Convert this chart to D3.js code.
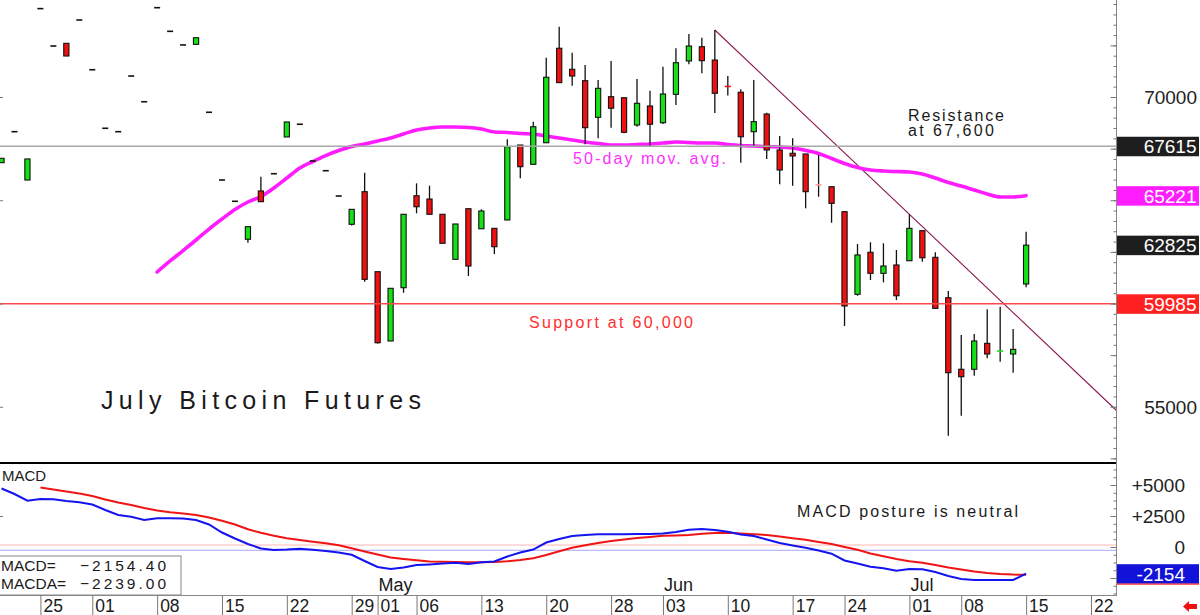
<!DOCTYPE html>
<html>
<head>
<meta charset="UTF-8">
<title>July Bitcoin Futures</title>
<script src="https://d3js.org/d3.v7.min.js"></script>
<style>
  html, body { margin: 0; padding: 0; background: #fff; }
  svg { display: block; }
  svg text { font-family: "Liberation Sans", Arial, sans-serif; fill: #1a1a1a; }
  .axis path.domain { display: none; }
  .axis line { stroke: #777; }
  .box-label { fill: #fff; font-size: 19px; text-anchor: end; }
</style>
</head>
<body>
<svg id="chart" width="1200" height="615"></svg>
<script>
// ---- data ----------------------------------------------------------
const holidays = ["2024-03-29", "2024-05-27", "2024-06-19", "2024-07-04"];

// daily OHLC, first bar 2024-03-20, last bar 2024-07-15
const opens = [66820, 68320, 65980, 74280, 72470, 72600, 73730, 71320, 68485, 68320,
  71015, 69770, 74325, 73180, 72520, 72550, 69260, 65980, 64950, 63110,
  65450, 66285, 68065, 68680, 66900, 66430, 65205, 63835, 65415, 61540,
  58185, 60765, 65220, 65060, 64320, 62140, 64590, 63620, 63640, 64045,
  67675, 66740, 67785, 72360, 71340, 70790, 69015, 70015, 69965, 68645,
  69565, 68755, 70130, 71745, 72435, 71790, 70510, 70230, 68320, 69175,
  67435, 67275, 67240, 65740, 65655, 64445, 60445, 62480, 61460, 61865,
  62070, 63525, 62235, 60280, 56815, 56815, 58070, 57700, 57555, 60945];
const highs = [67030, 68320, 67000, 74280, 72470, 72600, 73730, 71320, 68485, 68320,
  71015, 69770, 74325, 73180, 72520, 72870, 69260, 65980, 64950, 63720,
  66140, 66285, 68790, 68680, 66900, 66430, 65205, 64560, 66335, 61540,
  60735, 64320, 65820, 65705, 64320, 63850, 64590, 64560, 63640, 67950,
  67675, 68805, 71905, 73405, 72145, 71550, 70825, 71745, 69965, 70870,
  70305, 71465, 72360, 73050, 72870, 73245, 71015, 70375, 70825, 69240,
  68110, 68000, 67240, 67190, 65655, 64480, 62880, 62965, 62915, 62590,
  64320, 63560, 62480, 60605, 58475, 58520, 59720, 59845, 58765, 63475];
const lows = [66820, 68320, 65980, 74280, 72470, 71985, 73730, 71320, 68485, 68320,
  71015, 69770, 74325, 73180, 72520, 72550, 69260, 65980, 64950, 62945,
  64930, 66285, 68065, 68680, 66900, 66430, 65205, 63780, 61055, 58060,
  58185, 60520, 64370, 64320, 62915, 62140, 61330, 63620, 62395, 64045,
  66065, 66740, 67785, 70695, 70545, 67710, 68000, 68515, 68240, 68560,
  67595, 68690, 69615, 71585, 71150, 69225, 70075, 66820, 67640, 67000,
  65770, 65705, 64610, 65170, 63910, 58910, 60375, 61135, 61025, 60170,
  62070, 62025, 59765, 53595, 54565, 56505, 57345, 57180, 56650, 60785];
const closes = [67030, 68320, 67000, 74280, 72470, 71985, 73730, 71320, 68485, 68320,
  71015, 69770, 74325, 73180, 72520, 72870, 69260, 65980, 64950, 63720,
  64930, 66285, 68790, 68680, 66900, 66430, 65205, 64560, 61170, 58100,
  60735, 64320, 64685, 64320, 62915, 63850, 61815, 64480, 62750, 67595,
  66625, 68560, 70955, 70695, 71015, 68515, 70420, 69455, 68290, 69695,
  68680, 70145, 71660, 72470, 71760, 70180, 70510, 68075, 68805, 67435,
  66465, 67145, 65415, 65740, 64850, 59880, 62350, 61460, 61815, 60375,
  63640, 62215, 59765, 56650, 56455, 58185, 57555, 57700, 57780, 62825];

// colour of the flat (open = close) bars that are not plain black
const flatTone = { "2024-06-10": "down", "2024-06-20": "faint", "2024-07-11": "up" };

// 50-day moving average, from 2024-04-08
const maStart = "2024-04-08";
const movAvg50 = [61525, 62060, 62565, 63075, 63605, 64090, 64550, 64915, 65180, 65595,
  66075, 66560, 66875, 67165, 67410, 67605, 67725, 67870, 68015, 68210,
  68400, 68500, 68545, 68545, 68525, 68450, 68305, 68280, 68230, 68210,
  68110, 68015, 67920, 67820, 67750, 67675, 67675, 67700, 67725, 67770,
  67820, 67795, 67770, 67770, 67700, 67650, 67625, 67595, 67580, 67530,
  67410, 67265, 67020, 66780, 66585, 66465, 66415, 66390, 66370, 66270,
  66075, 65860, 65690, 65495, 65300, 65155, 65160, 65221];

// MACD (blue) from 2024-03-20, MACDA signal (red) from 2024-03-25
const macdLine = [4718, 4274, 3734, 3871, 3847, 3710, 3605, 3428, 2984, 2581,
  2436, 2178, 2315, 2315, 2299, 2178, 1815, 1169, 686, 242,
  -121, -242, -202, -137, -218, -323, -444, -629, -1129, -1613,
  -1774, -1653, -1452, -1403, -1331, -1274, -1371, -1234, -1169, -766,
  -444, -202, 363, 645, 887, 968, 1032, 1032, 1024, 1048,
  1048, 1089, 1210, 1387, 1452, 1371, 1226, 1008, 887, 605,
  323, 121, -65, -282, -540, -1089, -1331, -1589, -1718, -1911,
  -1774, -1798, -2016, -2339, -2581, -2661, -2661, -2661, -2661, -2154.4];
const signalStart = "2024-03-25";
const macdSignal = [4799, 4637, 4476, 4315, 4113, 3831, 3589, 3387, 3145, 2944,
  2807, 2702, 2581, 2379, 2113, 1815, 1427, 1145, 911, 710,
  565, 427, 298, 137, -105, -363, -605, -847, -968, -1073,
  -1169, -1185, -1202, -1234, -1234, -1210, -1153, -1048, -911, -645,
  -347, -56, 137, 323, 484, 605, 726, 807, 903, 927,
  968, 1065, 1129, 1153, 1097, 1032, 968, 847, 702, 581,
  403, 242, 0, -226, -524, -750, -968, -1153, -1274, -1452,
  -1653, -1815, -1976, -2097, -2180, -2225, -2239];

const resistanceLevel = 67615;
const supportLevel = 59985;
const trendAnchors = ["2024-06-07", "2024-07-01"];

const weekTicks = ["2024-03-25", "2024-04-01", "2024-04-08", "2024-04-15", "2024-04-22",
  "2024-04-29", "2024-05-01", "2024-05-06", "2024-05-13", "2024-05-20", "2024-05-28",
  "2024-06-03", "2024-06-10", "2024-06-17", "2024-06-24", "2024-07-01", "2024-07-08",
  "2024-07-15", "2024-07-22"];
const monthTicks = ["2024-05-01", "2024-06-03", "2024-07-01"];
const priceLabels = [55000, 70000];
const macdLabels = [0, 2500, 5000];

// ---- scales ----------------------------------------------------------
const key = d3.utcFormat("%Y-%m-%d");
const days = d3.utcDay.range(new Date(Date.UTC(2024, 2, 20)), new Date(Date.UTC(2024, 6, 25)))
  .filter(d => d.getUTCDay() > 0 && d.getUTCDay() < 6 && !holidays.includes(key(d)))
  .map(key);

const axisX = 1116.5;
const x = d3.scalePoint().domain(days).range([1.5, 1116.9]);
const y = d3.scaleLinear().domain([55000, 70000]).range([406.75, 97]);
const m = d3.scaleLinear().domain([0, 5000]).range([547, 485]);

const svg = d3.select('#chart');

const candles = closes.map((c, i) => ({ day: days[i], o: opens[i], h: highs[i], l: lows[i], c }));
const maData = movAvg50.map((v, i) => ({ day: days[days.indexOf(maStart) + i], v }));
const macdData = macdLine.map((v, i) => ({ day: days[i], v }));
const sigData = macdSignal.map((v, i) => ({ day: days[days.indexOf(signalStart) + i], v }));

// ---- price panel -------------------------------------------------------
const plot = svg.append('g');

// trend line through the two highs, run out to the price axis
const a0 = candles.find(d => d.day === trendAnchors[0]);
const a1 = candles.find(d => d.day === trendAnchors[1]);
const slope = (y(a1.h) - y(a0.h)) / (x(a1.day) - x(a0.day));
plot.append('line')
  .attr('x1', x(a0.day)).attr('y1', y(a0.h))
  .attr('x2', axisX).attr('y2', y(a0.h) + slope * (axisX - x(a0.day)))
  .attr('stroke', '#8a1850').attr('stroke-width', 1.1);

plot.append('path')
  .datum(maData)
  .attr('fill', 'none')
  .attr('stroke', '#ff1cff')
  .attr('stroke-width', 3.6)
  .attr('stroke-linecap', 'round')
  .attr('d', d3.line().x(d => x(d.day)).y(d => y(d.v)).curve(d3.curveMonotoneX));

const bar = plot.selectAll('.candle').data(candles).enter().append('g').attr('class', 'candle');

bar.filter(d => d.h > Math.max(d.o, d.c) || d.l < Math.min(d.o, d.c))
  .append('line')
  .attr('x1', d => x(d.day)).attr('x2', d => x(d.day))
  .attr('y1', d => y(d.h)).attr('y2', d => y(d.l))
  .attr('stroke', '#111').attr('stroke-width', 1.3);

bar.filter(d => d.o !== d.c)
  .append('rect')
  .attr('x', d => x(d.day) - 2.6)
  .attr('width', 5.2)
  .attr('y', d => y(Math.max(d.o, d.c)))
  .attr('height', d => Math.max(1, y(Math.min(d.o, d.c)) - y(Math.max(d.o, d.c))))
  .attr('fill', d => d.c > d.o ? '#16e016' : '#f01010')
  .attr('stroke', '#111')
  .attr('stroke-width', 1.1);

const toneColour = { up: '#16e016', down: '#f01010', faint: '#ff9a9a' };
bar.filter(d => d.o === d.c)
  .append('line')
  .attr('x1', d => x(d.day) - 3).attr('x2', d => x(d.day) + 3)
  .attr('y1', d => y(d.o)).attr('y2', d => y(d.o))
  .attr('stroke', d => toneColour[flatTone[d.day]] || '#111')
  .attr('stroke-width', 1.6);

// horizontal levels sit over the bars
plot.append('line')
  .attr('x1', 0).attr('x2', axisX).attr('y1', y(resistanceLevel)).attr('y2', y(resistanceLevel))
  .attr('stroke', '#a8a8a8').attr('stroke-width', 1.6);
plot.append('line')
  .attr('x1', 0).attr('x2', axisX).attr('y1', y(supportLevel)).attr('y2', y(supportLevel))
  .attr('stroke', '#ff4a4a').attr('stroke-width', 1.4);

// annotations
function note(txt, px, py, size, len, colour) {
  svg.append('text')
    .attr('x', px).attr('y', py)
    .attr('font-size', size)
    .attr('textLength', len)
    .attr('lengthAdjust', 'spacing')
    .style('fill', colour || '#1a1a1a')
    .text(txt);
}
note('July Bitcoin Futures', 101, 408.5, 25, 320);
note('Resistance', 908, 120.7, 16, 96);
note('at 67,600', 908, 136, 16, 86);
note('50-day mov. avg.', 573, 164, 16, 153, '#ff30ff');
note('Support at 60,000', 529, 327.5, 16, 164, '#ff2e2e');
note('MACD posture is neutral', 797, 516.5, 16, 221);

// ---- MACD panel ----------------------------------------------------------
svg.append('line').attr('x1', 0).attr('x2', axisX).attr('y1', 463).attr('y2', 463)
  .attr('stroke', '#000').attr('stroke-width', 2);
svg.append('line').attr('x1', 0).attr('x2', axisX).attr('y1', m(160)).attr('y2', m(160))
  .attr('stroke', '#ffb4b4').attr('stroke-width', 1);
svg.append('line').attr('x1', 0).attr('x2', axisX).attr('y1', m(-265)).attr('y2', m(-265))
  .attr('stroke', '#a8a8ff').attr('stroke-width', 1);

const macdPath = d3.line().x(d => x(d.day)).y(d => m(d.v));
svg.append('path').datum(sigData)
  .attr('fill', 'none').attr('stroke', '#f01414').attr('stroke-width', 2)
  .attr('d', macdPath);
svg.append('path').datum(macdData)
  .attr('fill', 'none').attr('stroke', '#1414f0').attr('stroke-width', 2)
  .attr('d', macdPath);

svg.append('text').attr('x', 2).attr('y', 481).attr('font-size', 15).text('MACD');

const fmt2 = d3.format('.2f');
svg.append('rect').attr('x', -1).attr('y', 556).attr('width', 182).attr('height', 39)
  .attr('fill', '#fff').attr('stroke', '#888');
svg.append('text').attr('x', 1).attr('y', 571).attr('font-size', 15.5).text('MACD=');
svg.append('text').attr('x', 1).attr('y', 589).attr('font-size', 15.5).text('MACDA=');
note(fmt2(macdLine[macdLine.length - 1]), 80, 571, 15.5, 86);
note(fmt2(macdSignal[macdSignal.length - 1]), 80, 589, 15.5, 86);

// ---- axes ----------------------------------------------------------------
svg.append('line').attr('x1', 0).attr('x2', axisX).attr('y1', 595.5).attr('y2', 595.5)
  .attr('stroke', '#888');
svg.append('line').attr('x1', axisX).attr('x2', axisX).attr('y1', 0).attr('y2', 596)
  .attr('stroke', '#888');

const priceG = svg.append('g').attr('class', 'axis').attr('transform', `translate(${axisX},0)`);
priceG.append('g').call(d3.axisRight(y).tickValues(d3.range(52500, 75000, 500))
  .tickSizeInner(-3).tickSizeOuter(0).tickFormat(''));
priceG.append('g').call(d3.axisRight(y).tickValues(d3.range(52500, 75000, 2500))
  .tickSizeInner(-6).tickSizeOuter(0)
  .tickFormat(v => priceLabels.includes(v) ? v : ''));
priceG.selectAll('text')
  .attr('x', 80.5).attr('dy', '0.35em')
  .attr('text-anchor', 'end').attr('font-size', 19).style('fill', '#222');

const macdG = svg.append('g').attr('class', 'axis').attr('transform', `translate(${axisX},0)`);
macdG.append('g').call(d3.axisRight(m).tickValues(d3.range(-3750, 6500, 625))
  .tickSizeInner(-3).tickSizeOuter(0).tickFormat(''));
macdG.append('g').call(d3.axisRight(m).tickValues(d3.range(-2500, 6000, 2500))
  .tickSizeInner(-6).tickSizeOuter(0)
  .tickFormat(v => macdLabels.includes(v) ? (v > 0 ? '+' + v : v) : ''));
macdG.selectAll('text')
  .attr('x', 68.5).attr('dy', '0.35em')
  .attr('text-anchor', 'end').attr('font-size', 19).style('fill', '#222');

// small ticks on the left edge
svg.append('g').attr('class', 'axis')
  .call(d3.axisRight(y).tickValues([55000, 60000, 65000, 70000]).tickSize(3).tickFormat(''));
svg.append('g').attr('class', 'axis')
  .call(d3.axisRight(m).tickValues([2500]).tickSize(3).tickFormat(''));

// date row
const dateG = svg.append('g').attr('class', 'axis').attr('transform', 'translate(0,595.5)')
  .call(d3.axisBottom(x).tickValues(weekTicks).tickSize(20).tickSizeOuter(0)
    .tickFormat(d => d.slice(8)));
dateG.selectAll('line').attr('stroke', '#888');
dateG.selectAll('text')
  .attr('x', 2.5).attr('y', 16.5).attr('dy', 0)
  .attr('text-anchor', 'start').attr('font-size', 17.5).style('fill', '#1a1a1a');

const monthFmt = d3.utcFormat('%b');
svg.selectAll('.month').data(monthTicks).enter().append('text')
  .attr('class', 'month')
  .attr('x', d => x(d) + 1)
  .attr('y', 591)
  .attr('font-size', 18)
  .text(d => monthFmt(new Date(d + 'T00:00:00Z')));

// value boxes on the right axis
const last = candles[candles.length - 1];
const boxes = [
  { v: resistanceLevel, yy: y(resistanceLevel), fill: '#1e1e1e', tx: 1196.5 },
  { v: movAvg50[movAvg50.length - 1], yy: y(movAvg50[movAvg50.length - 1]), fill: '#ff1cff', tx: 1196.5 },
  { v: last.c, yy: y(last.c), fill: '#1e1e1e', tx: 1196.5 },
  { v: supportLevel, yy: y(supportLevel), fill: '#ff2020', tx: 1196.5 },
  { v: Math.round(macdLine[macdLine.length - 1]), yy: m(macdLine[macdLine.length - 1]), fill: '#1212d8', tx: 1185 }
];
const box = svg.selectAll('.vbox').data(boxes).enter().append('g').attr('class', 'vbox');
box.append('rect')
  .attr('x', axisX + 0.5).attr('width', 82)
  .attr('y', d => d.yy - 9.5).attr('height', 19.5)
  .attr('fill', d => d.fill);
box.append('text')
  .attr('class', 'box-label')
  .attr('x', d => d.tx).attr('y', d => d.yy)
  .attr('dy', '0.36em')
  .style('fill', '#fff')
  .text(d => d.v);
svg.append('line')
  .attr('x1', axisX).attr('x2', 1199)
  .attr('y1', m(macdLine[macdLine.length - 1]) + 10.5).attr('y2', m(macdLine[macdLine.length - 1]) + 10.5)
  .attr('stroke', '#ff3030').attr('stroke-width', 1.2);

// red arrow, bottom right
svg.append('path')
  .attr('d', 'M1183,606.5 L1189,601 L1189,604 L1197,604 L1197,609 L1189,609 L1189,612 Z')
  .attr('fill', '#ee1111');
</script>
</body>
</html>
